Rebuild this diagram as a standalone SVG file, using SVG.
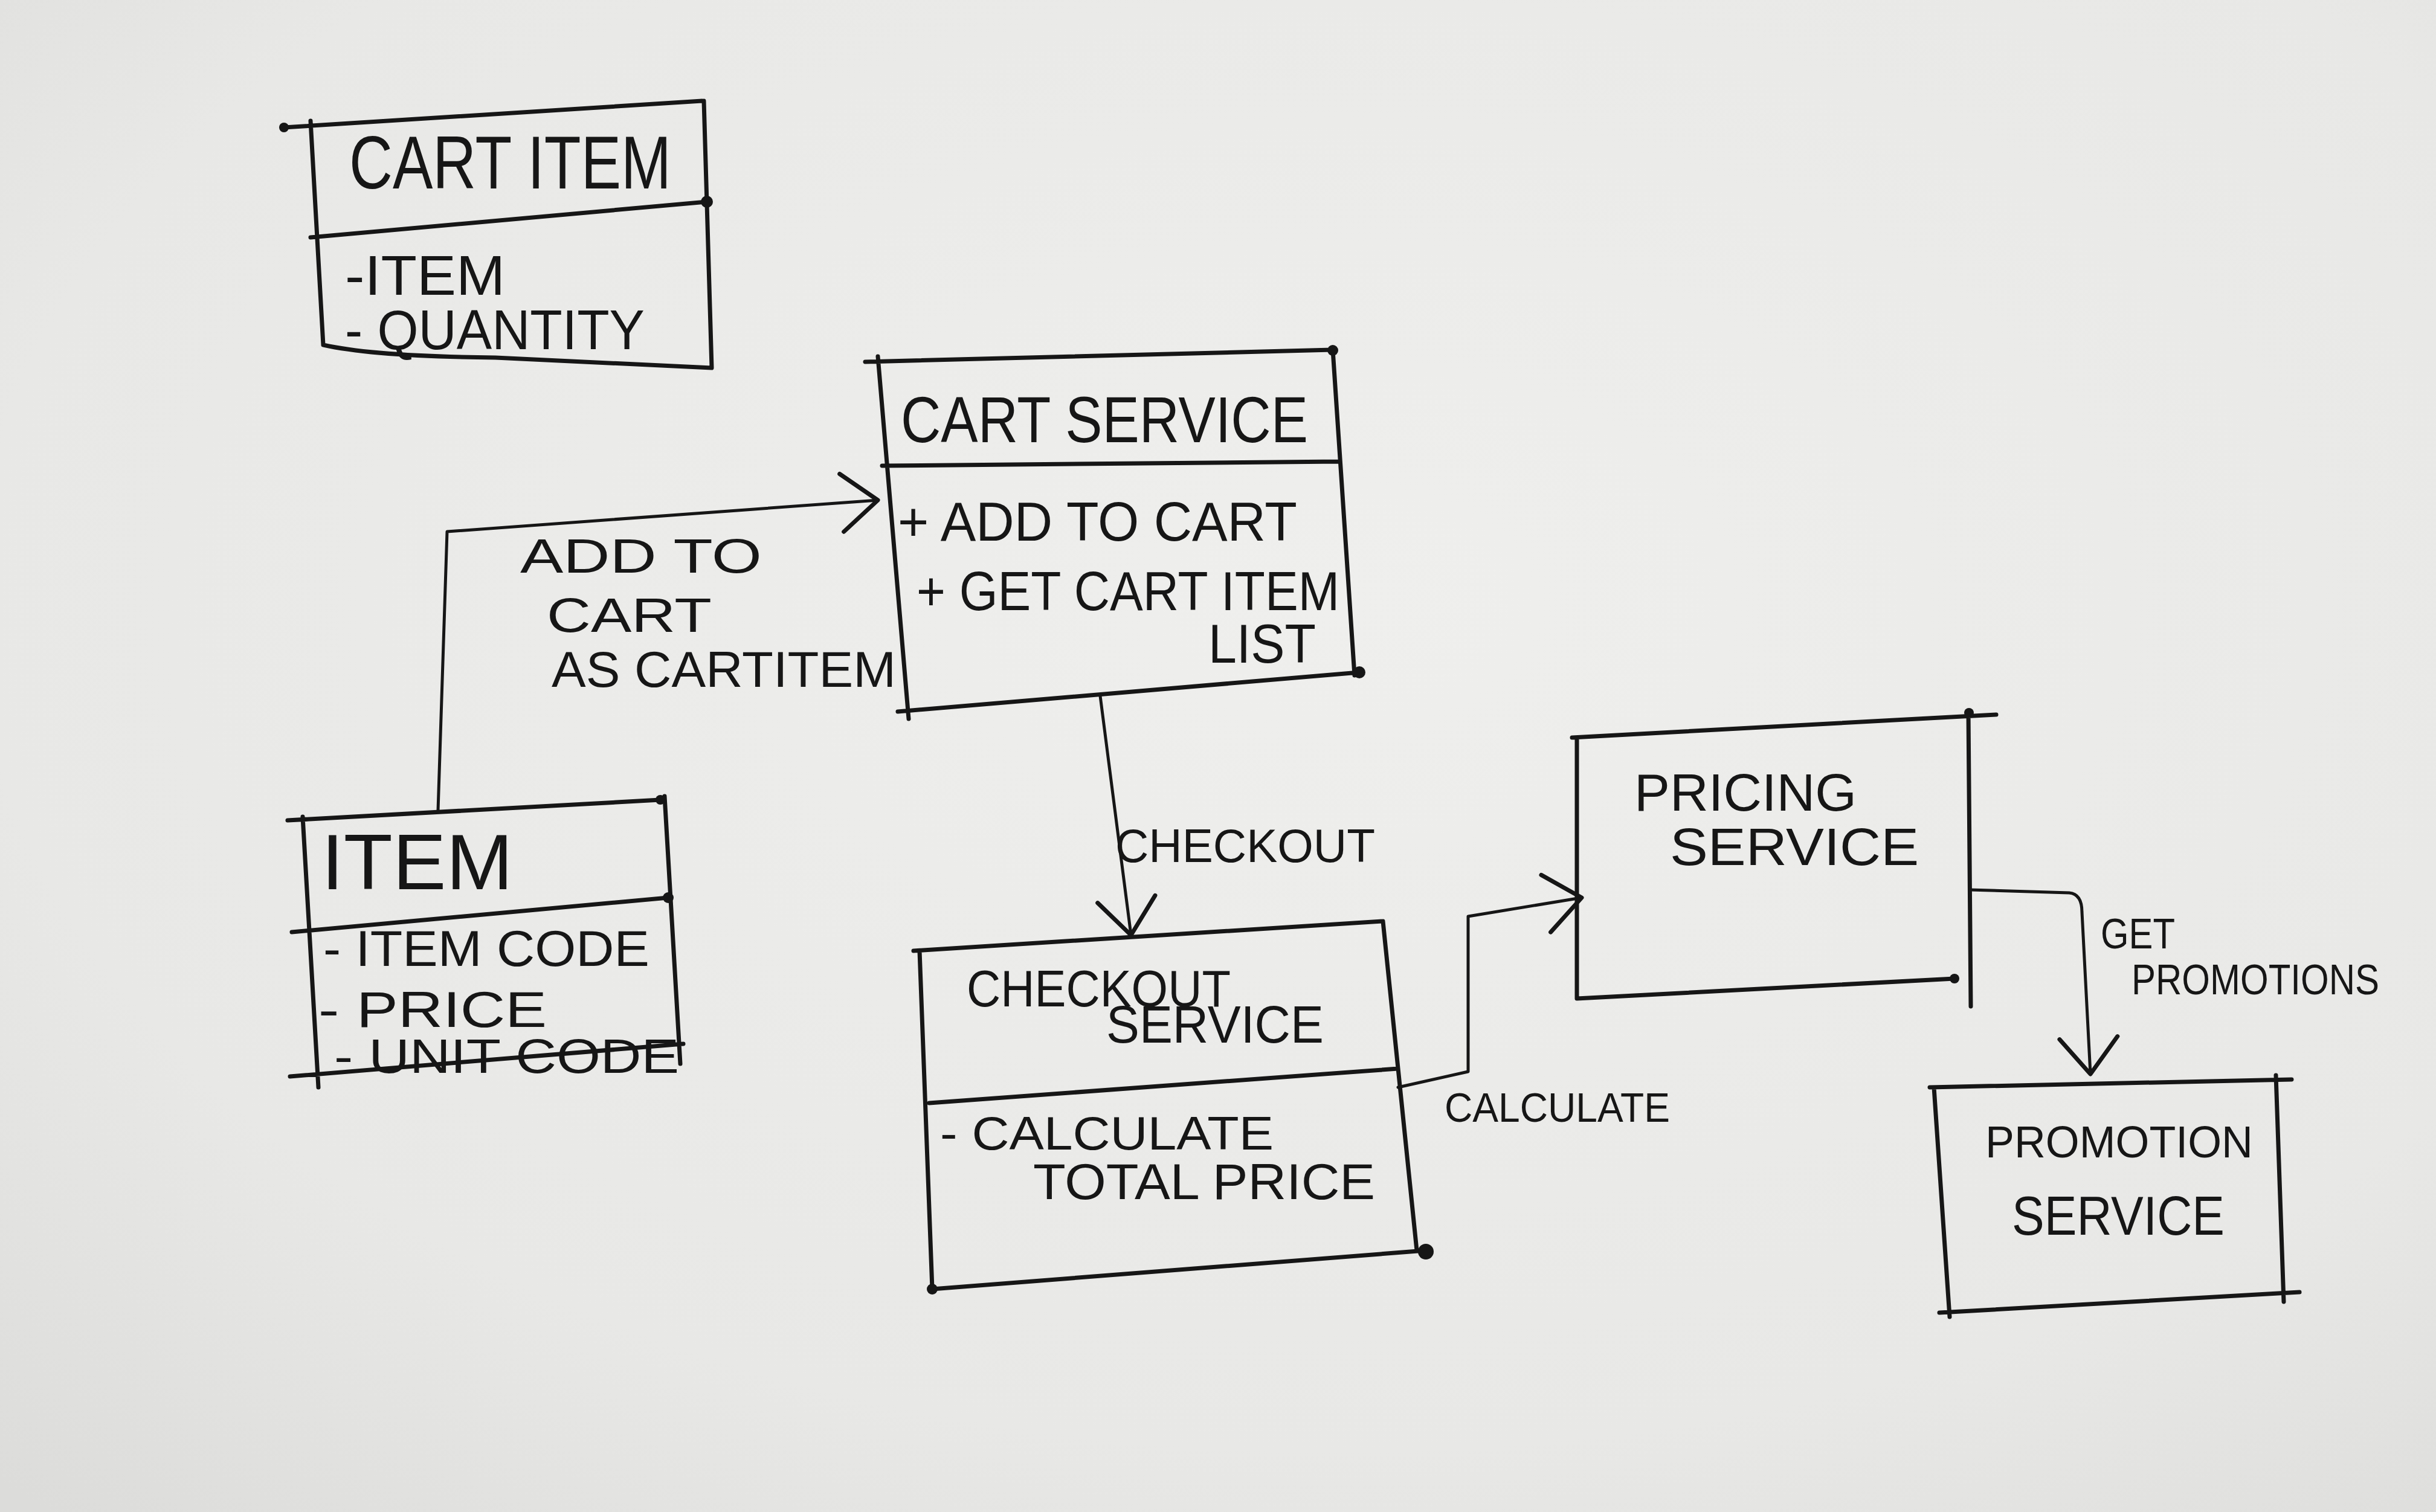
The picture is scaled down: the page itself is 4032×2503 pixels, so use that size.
<svg xmlns="http://www.w3.org/2000/svg" width="4032" height="2503" viewBox="0 0 4032 2503">
<defs>
<radialGradient id="paper" cx="0.55" cy="0.4" r="0.8">
<stop offset="0" stop-color="#efefed"/>
<stop offset="0.7" stop-color="#e8e8e6"/>
<stop offset="1" stop-color="#dcdcda"/>
</radialGradient>
<marker id="arr" markerUnits="userSpaceOnUse" markerWidth="140" markerHeight="140" viewBox="-70 -70 140 140" refX="0" refY="0" orient="auto">
<path d="M-60,-48 L0,0 L-60,48" fill="none" stroke="#161616" stroke-width="7" stroke-linecap="round" stroke-linejoin="round"/>
</marker>
<style>
.box{fill:none;stroke:#161616;stroke-width:7;stroke-linecap:round;stroke-linejoin:round}
.con{fill:none;stroke:#161616;stroke-width:5;stroke-linecap:round;stroke-linejoin:round}
.t{font-family:"Liberation Sans",Arial,sans-serif;fill:#161616;font-weight:normal}
.dot{fill:#161616}
</style>
</defs>
<rect width="4032" height="2503" fill="url(#paper)"/>

<g id="connectors">
<path class="con" d="M725,1342 L740,880 L1453,828" marker-end="url(#arr)"/>
<path class="con" d="M1821,1152 L1872,1548" marker-end="url(#arr)"/>
<path class="con" d="M2314,1800 L2430,1774 L2430,1517 L2618,1486" marker-end="url(#arr)"/>
<path class="con" d="M3260,1473 L3425,1478 Q3446,1480 3446,1510 L3460,1778" marker-end="url(#arr)"/>
<text class="t" x="861" y="948" font-size="80" textLength="400" lengthAdjust="spacingAndGlyphs">ADD TO</text>
<text class="t" x="905" y="1046" font-size="80" textLength="273" lengthAdjust="spacingAndGlyphs">CART</text>
<text class="t" x="913" y="1137" font-size="84" textLength="570" lengthAdjust="spacingAndGlyphs">AS CARTITEM</text>
<text class="t" x="1846" y="1427" font-size="78" textLength="430" lengthAdjust="spacingAndGlyphs">CHECKOUT</text>
<text class="t" x="2391" y="1857" font-size="68" textLength="373" lengthAdjust="spacingAndGlyphs">CALCULATE</text>
<text class="t" x="3477" y="1570" font-size="70" textLength="123" lengthAdjust="spacingAndGlyphs">GET</text>
<text class="t" x="3528" y="1646" font-size="70" textLength="410" lengthAdjust="spacingAndGlyphs">PROMOTIONS</text>
</g>

<g id="cart-item">
<path class="box" d="M470,211 L1162,167 M514,200 L535,571 M1165,167 L1178,609 M514,393 L1170,334 M535,571 Q620,590 820,592 L1178,609"/>
<circle class="dot" cx="470" cy="211" r="8"/><circle class="dot" cx="1170" cy="334" r="10"/>
<text class="t" x="578" y="312" font-size="124" textLength="533" lengthAdjust="spacingAndGlyphs">CART ITEM</text>
<text class="t" x="571" y="488" font-size="92" textLength="265" lengthAdjust="spacingAndGlyphs">-ITEM</text>
<text class="t" x="571" y="578" font-size="92" textLength="496" lengthAdjust="spacingAndGlyphs">- QUANTITY</text>
</g>

<g id="cart-service">
<path class="box" d="M1432,599 L2206,579 M1453,590 L1504,1190 M2206,579 L2242,1118 M1460,771 L2217,764 M1486,1178 L2250,1113"/>
<circle class="dot" cx="2206" cy="580" r="9"/><circle class="dot" cx="2250" cy="1113" r="10"/>
<text class="t" x="1491" y="732" font-size="108" textLength="674" lengthAdjust="spacingAndGlyphs">CART SERVICE</text>
<text class="t" x="1486" y="895" font-size="90" textLength="661" lengthAdjust="spacingAndGlyphs">+ ADD TO CART</text>
<text class="t" x="1517" y="1010" font-size="90" textLength="700" lengthAdjust="spacingAndGlyphs">+ GET CART ITEM</text>
<text class="t" x="2000" y="1097" font-size="90" textLength="178" lengthAdjust="spacingAndGlyphs">LIST</text>
</g>

<g id="item">
<path class="box" d="M476,1358 L1093,1324 M501,1352 L527,1800 M1100,1318 L1126,1761 M483,1543 L1106,1486 M480,1782 L1131,1728"/>
<circle class="dot" cx="1093" cy="1324" r="8"/><circle class="dot" cx="1106" cy="1486" r="9"/>
<text class="t" x="532" y="1472" font-size="130" textLength="317" lengthAdjust="spacingAndGlyphs">ITEM</text>
<text class="t" x="535" y="1599" font-size="84" textLength="540" lengthAdjust="spacingAndGlyphs">- ITEM CODE</text>
<text class="t" x="527" y="1700" font-size="84" textLength="378" lengthAdjust="spacingAndGlyphs">- PRICE</text>
<text class="t" x="553" y="1776" font-size="80" textLength="571" lengthAdjust="spacingAndGlyphs">- UNIT CODE</text>
</g>

<g id="checkout-service">
<path class="box" d="M1512,1574 L2289,1525 M1522,1574 L1543,2134 M2289,1525 L2345,2070 M1538,1826 L2314,1769 M1543,2134 L2360,2070"/>
<circle class="dot" cx="2360" cy="2072" r="13"/><circle class="dot" cx="1543" cy="2134" r="9"/>
<text class="t" x="1600" y="1666" font-size="86" textLength="437" lengthAdjust="spacingAndGlyphs">CHECKOUT</text>
<text class="t" x="1831" y="1726" font-size="88" textLength="360" lengthAdjust="spacingAndGlyphs">SERVICE</text>
<text class="t" x="1556" y="1903" font-size="78" textLength="552" lengthAdjust="spacingAndGlyphs">- CALCULATE</text>
<text class="t" x="1710" y="1985" font-size="84" textLength="566" lengthAdjust="spacingAndGlyphs">TOTAL PRICE</text>
</g>

<g id="pricing-service">
<path class="box" d="M2602,1221 L3304,1183 M2610,1221 L2610,1653 M3258,1178 L3262,1666 M2610,1653 L3235,1620"/>
<circle class="dot" cx="3235" cy="1620" r="8"/><circle class="dot" cx="3259" cy="1180" r="8"/>
<text class="t" x="2705" y="1342" font-size="88" textLength="368" lengthAdjust="spacingAndGlyphs">PRICING</text>
<text class="t" x="2764" y="1432" font-size="88" textLength="412" lengthAdjust="spacingAndGlyphs">SERVICE</text>
</g>

<g id="promotion-service">
<path class="box" d="M3194,1800 L3793,1787 M3201,1800 L3227,2180 M3767,1780 L3780,2155 M3210,2173 L3806,2139"/>
<text class="t" x="3286" y="1916" font-size="74" textLength="443" lengthAdjust="spacingAndGlyphs">PROMOTION</text>
<text class="t" x="3330" y="2044" font-size="90" textLength="352" lengthAdjust="spacingAndGlyphs">SERVICE</text>
</g>
</svg>
